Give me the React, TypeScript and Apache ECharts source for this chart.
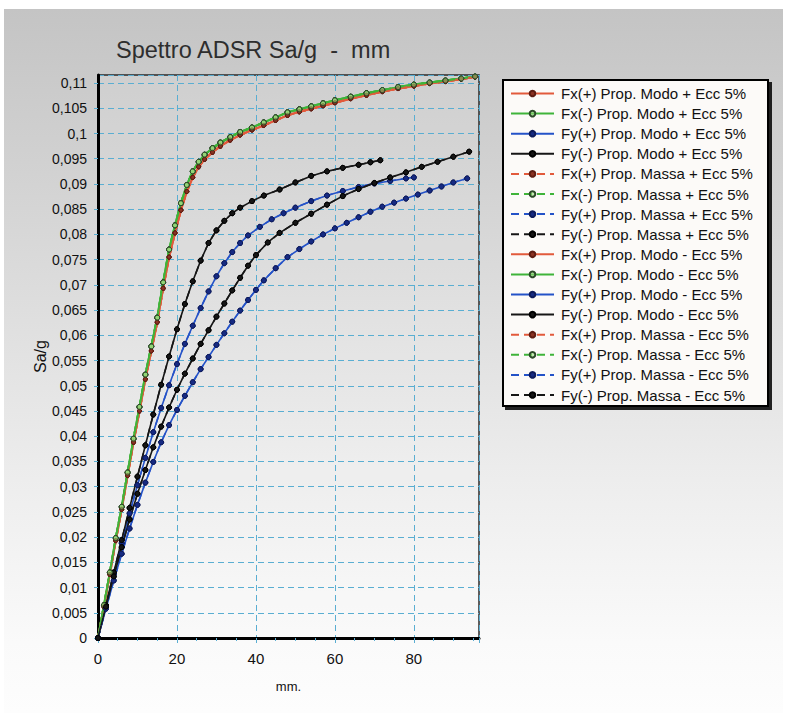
import React, { useEffect, useRef } from "react";
import * as echarts from "echarts";

// Spectrum curves, [displacement mm, Sa/g]
const FX_POS: [number, number][] = [
  [0, 0], [1.5, 0.0062], [3, 0.0126], [4.5, 0.0193], [6, 0.0255], [7.5, 0.0322], [9, 0.0388],
  [10.5, 0.045], [12, 0.0513], [13.5, 0.0569], [15, 0.0626], [16.5, 0.0693], [18, 0.0755],
  [19.5, 0.0803], [21, 0.0848], [22.5, 0.0885], [24, 0.0913], [25.5, 0.0934], [27, 0.0949],
  [29, 0.0963], [31, 0.0975], [33.5, 0.0987], [36, 0.0997], [39, 0.1007], [42, 0.1016],
  [45, 0.1026], [48, 0.1036], [51, 0.1043], [54, 0.1049], [57, 0.1055], [60, 0.1061],
  [64, 0.1069], [68, 0.1076], [72, 0.1083], [76, 0.1089], [80, 0.1094], [84, 0.1099],
  [88, 0.1103], [92, 0.1108], [95.5, 0.1112],
];

const FX_NEG: [number, number][] = [
  [0, 0], [1.5, 0.0065], [3, 0.013], [4.5, 0.0198], [6, 0.026], [7.5, 0.0328], [9, 0.0395],
  [10.5, 0.0458], [12, 0.0522], [13.5, 0.0578], [15, 0.0635], [16.5, 0.0705], [18, 0.077],
  [19.5, 0.0818], [21, 0.0862], [22.5, 0.0898], [24, 0.0925], [25.5, 0.0944], [27, 0.0958],
  [29, 0.0971], [31, 0.0982], [33.5, 0.0993], [36, 0.1003], [39, 0.1012], [42, 0.1022],
  [45, 0.1032], [48, 0.1042], [51, 0.1048], [54, 0.1054], [57, 0.106], [60, 0.1066],
  [64, 0.1073], [68, 0.108], [72, 0.1086], [76, 0.1092], [80, 0.1097], [84, 0.1101],
  [88, 0.1105], [92, 0.1109], [95.5, 0.1113],
];

const FY_POS_ECC_PLUS: [number, number][] = [
  [0, 0], [2, 0.0064], [4, 0.0127], [6, 0.0188], [8, 0.0247], [10, 0.0303], [12, 0.0357],
  [14, 0.0408], [16, 0.0456], [18, 0.0501], [20, 0.0543], [22, 0.0583], [24, 0.0619],
  [26, 0.0654], [28, 0.0687], [30, 0.0717], [32, 0.0743], [34, 0.0765], [36, 0.0783],
  [38, 0.0798], [41, 0.0815], [44, 0.083], [47, 0.0842], [50, 0.0853], [54, 0.0866],
  [58, 0.0877], [62, 0.0886], [66, 0.0894], [70, 0.0901], [74, 0.0906], [78, 0.0911],
  [80, 0.0913],
];

const FY_NEG_ECC_PLUS: [number, number][] = [
  [0, 0], [2, 0.0065], [4, 0.013], [6, 0.0194], [8, 0.0258], [10, 0.032], [12, 0.0382],
  [14, 0.0443], [16, 0.0502], [18, 0.0558], [20, 0.0612], [22, 0.0662], [24, 0.0707],
  [26, 0.0748], [28, 0.0783], [30, 0.0808], [32, 0.0827], [34, 0.0842], [36, 0.0853],
  [39, 0.0866], [42, 0.0877], [46, 0.0889], [50, 0.0903], [54, 0.0916], [58, 0.0925],
  [62, 0.0932], [66, 0.0938], [69, 0.0943], [71.5, 0.0947],
];

const FY_POS_ECC_MINUS: [number, number][] = [
  [0, 0], [2, 0.0058], [4, 0.0114], [6, 0.0167], [8, 0.0217], [10, 0.0264], [12, 0.0308],
  [14, 0.0349], [16, 0.0388], [18, 0.0422], [20, 0.0452], [22, 0.048], [24, 0.0507],
  [26, 0.0533], [28, 0.0557], [30, 0.0581], [32, 0.0604], [34, 0.0627], [36, 0.0649],
  [38, 0.067], [40, 0.069], [42, 0.0709], [45, 0.0733], [48, 0.0755], [51, 0.0771],
  [54, 0.0786], [57, 0.08], [60, 0.0812], [63, 0.0823], [66, 0.0834], [69, 0.0845],
  [72, 0.0855], [75, 0.0863], [78, 0.0871], [81, 0.0879], [84, 0.0887], [87, 0.0895],
  [90, 0.0903], [93.5, 0.0911],
];

const FY_NEG_ECC_MINUS: [number, number][] = [
  [0, 0], [2, 0.0062], [4, 0.0122], [6, 0.018], [8, 0.0235], [10, 0.0286], [12, 0.0333],
  [14, 0.0378], [16, 0.0419], [18, 0.0457], [20, 0.0492], [22, 0.0524], [24, 0.0554],
  [26, 0.0583], [28, 0.061], [30, 0.0637], [32, 0.0663], [34, 0.0689], [36, 0.0714],
  [38, 0.0738], [40, 0.0759], [43, 0.0784], [46, 0.0803], [50, 0.0823], [54, 0.0841],
  [58, 0.0859], [62, 0.0876], [66, 0.089], [70, 0.0902], [74, 0.0913], [78, 0.0923],
  [82, 0.0934], [86, 0.0944], [90, 0.0954], [94, 0.0964],
];

// Axis ranges
const X_MIN = 0;
const X_MAX = 96.5;
const X_STEP = 20;
const Y_MIN = 0;
const Y_MAX = 0.1116;
const Y_STEP = 0.005;

const TITLE = "Spettro ADSR Sa/g  -  mm";
const X_NAME = "mm.";
const Y_NAME = "Sa/g";

type Family = "fxPos" | "fxNeg" | "fyPos" | "fyNeg";

const SERIES_DEFS: { name: string; family: Family; dashed: boolean; data: [number, number][] }[] = [
  { name: "Fx(+) Prop. Modo + Ecc 5%", family: "fxPos", dashed: false, data: FX_POS },
  { name: "Fx(-) Prop. Modo + Ecc 5%", family: "fxNeg", dashed: false, data: FX_NEG },
  { name: "Fy(+) Prop. Modo + Ecc 5%", family: "fyPos", dashed: false, data: FY_POS_ECC_PLUS },
  { name: "Fy(-) Prop. Modo + Ecc 5%", family: "fyNeg", dashed: false, data: FY_NEG_ECC_PLUS },
  { name: "Fx(+) Prop. Massa + Ecc 5%", family: "fxPos", dashed: true, data: FX_POS },
  { name: "Fx(-) Prop. Massa + Ecc 5%", family: "fxNeg", dashed: true, data: FX_NEG },
  { name: "Fy(+) Prop. Massa + Ecc 5%", family: "fyPos", dashed: true, data: FY_POS_ECC_PLUS },
  { name: "Fy(-) Prop. Massa + Ecc 5%", family: "fyNeg", dashed: true, data: FY_NEG_ECC_PLUS },
  { name: "Fx(+) Prop. Modo - Ecc 5%", family: "fxPos", dashed: false, data: FX_POS },
  { name: "Fx(-) Prop. Modo - Ecc 5%", family: "fxNeg", dashed: false, data: FX_NEG },
  { name: "Fy(+) Prop. Modo - Ecc 5%", family: "fyPos", dashed: false, data: FY_POS_ECC_MINUS },
  { name: "Fy(-) Prop. Modo - Ecc 5%", family: "fyNeg", dashed: false, data: FY_NEG_ECC_MINUS },
  { name: "Fx(+) Prop. Massa - Ecc 5%", family: "fxPos", dashed: true, data: FX_POS },
  { name: "Fx(-) Prop. Massa - Ecc 5%", family: "fxNeg", dashed: true, data: FX_NEG },
  { name: "Fy(+) Prop. Massa - Ecc 5%", family: "fyPos", dashed: true, data: FY_POS_ECC_MINUS },
  { name: "Fy(-) Prop. Massa - Ecc 5%", family: "fyNeg", dashed: true, data: FY_NEG_ECC_MINUS },
];

const FAMILY_STYLE: Record<Family, { line: string; fill: string; border: string; size: number; width: number }> = {
  fxPos: { line: "#e25a3c", fill: "#8a3222", border: "#5e1c12", size: 4, width: 2 },
  fxNeg: { line: "#3fb43a", fill: "rgba(150,215,120,0.55)", border: "#2b4a28", size: 5, width: 2 },
  fyPos: { line: "#2452c8", fill: "#162a82", border: "#0d1a5a", size: 5, width: 1.6 },
  fyNeg: { line: "#161616", fill: "#151515", border: "#000000", size: 5, width: 1.6 },
};

const FONT = "'Liberation Sans', Arial, sans-serif";
const GRID_BLUE = "#5aaed2";

function fmtDecimal(v: number): string {
  const r = Math.round(v * 10000) / 10000;
  return String(r).replace(".", ",");
}

export default function App() {
  const ref = useRef<HTMLDivElement>(null);

  useEffect(() => {
    if (!ref.current) return;
    const chart = echarts.init(ref.current, undefined, { renderer: "svg" });

    const series = SERIES_DEFS.map((d) => {
      const st = FAMILY_STYLE[d.family];
      return {
        name: d.name,
        type: "line",
        data: d.data,
        showSymbol: true,
        symbol: "circle",
        symbolSize: st.size,
        smooth: false,
        lineStyle: { color: st.line, width: st.width, type: d.dashed ? [8, 5] : "solid" },
        itemStyle: { color: st.fill, borderColor: st.border, borderWidth: 1 },
        emphasis: { disabled: true },
      };
    });

    chart.setOption({
      animation: false,
      backgroundColor: "transparent",
      textStyle: { fontFamily: FONT },
      title: {
        text: TITLE,
        left: 111,
        top: 33,
        textStyle: { fontFamily: FONT, fontSize: 23.5, fontWeight: "normal", color: "#2e2e2e" },
      },
      graphic: [
        {
          type: "rect",
          z: 1,
          shape: { x: 503, y: 80, width: 265, height: 326 },
          style: {
            fill: "#fcfaf8",
            stroke: "#000",
            lineWidth: 2,
            shadowColor: "rgba(0,0,0,0.85)",
            shadowBlur: 1,
            shadowOffsetX: 3,
            shadowOffsetY: 3,
          },
        },
      ],
      legend: {
        orient: "vertical",
        left: 506,
        top: 80,
        padding: [6, 4, 5, 4],
        itemWidth: 43,
        itemHeight: 7,
        itemGap: 5.1,
        selectedMode: false,
        textStyle: { fontFamily: FONT, fontSize: 15, color: "#111", padding: [0, 0, 0, 2] },
        data: SERIES_DEFS.map((d) => d.name),
      },
      grid: {
        left: 98,
        right: 310,
        top: 75,
        bottom: 75,
        show: true,
        borderColor: "#2a2a2a",
        borderWidth: 1.5,
        backgroundColor: "rgba(255,255,255,0.10)",
      },
      xAxis: {
        type: "value",
        min: X_MIN,
        max: X_MAX,
        interval: X_STEP,
        name: X_NAME,
        nameLocation: "middle",
        nameGap: 42,
        nameTextStyle: { fontFamily: FONT, fontSize: 13, color: "#111" },
        axisLine: { show: true, lineStyle: { color: "#000", width: 3 } },
        axisTick: { show: true, length: 5, lineStyle: { color: GRID_BLUE, width: 1 } },
        minorTick: { show: true, splitNumber: 4, length: 3, lineStyle: { color: GRID_BLUE, width: 1 } },
        axisLabel: { fontFamily: FONT, fontSize: 15, color: "#111", margin: 13, showMaxLabel: false },
        splitLine: { show: true, lineStyle: { color: GRID_BLUE, width: 1, type: [6, 4] } },
      },
      yAxis: {
        type: "value",
        min: Y_MIN,
        max: Y_MAX,
        interval: Y_STEP,
        name: Y_NAME,
        nameLocation: "middle",
        nameRotate: 90,
        nameGap: 47,
        nameTextStyle: { fontFamily: FONT, fontSize: 16, color: "#111" },
        axisLine: { show: true, lineStyle: { color: "#000", width: 3 } },
        axisTick: { show: true, length: 4, lineStyle: { color: GRID_BLUE, width: 1 } },
        axisLabel: {
          fontFamily: FONT,
          fontSize: 14,
          color: "#111",
          margin: 11,
          showMaxLabel: false,
          formatter: (v: number) => fmtDecimal(v),
        },
        splitLine: { show: true, lineStyle: { color: GRID_BLUE, width: 1, type: [6, 4] } },
      },
      series,
    });

    return () => chart.dispose();
  }, []);

  return (
    <div style={{ position: "absolute", left: 0, top: 0, width: 789, height: 713, background: "#ffffff", overflow: "hidden" }}>
      <div
        style={{
          position: "absolute",
          left: 4,
          top: 9,
          width: 779,
          height: 704,
          background: "linear-gradient(180deg, #c4c4c4 0%, #d6d6d6 30%, #ececec 65%, #fafafa 90%, #fdfdfd 100%)",
        }}
      />
      <div ref={ref} style={{ position: "absolute", left: 0, top: 0, width: 789, height: 713 }} />
    </div>
  );
}
